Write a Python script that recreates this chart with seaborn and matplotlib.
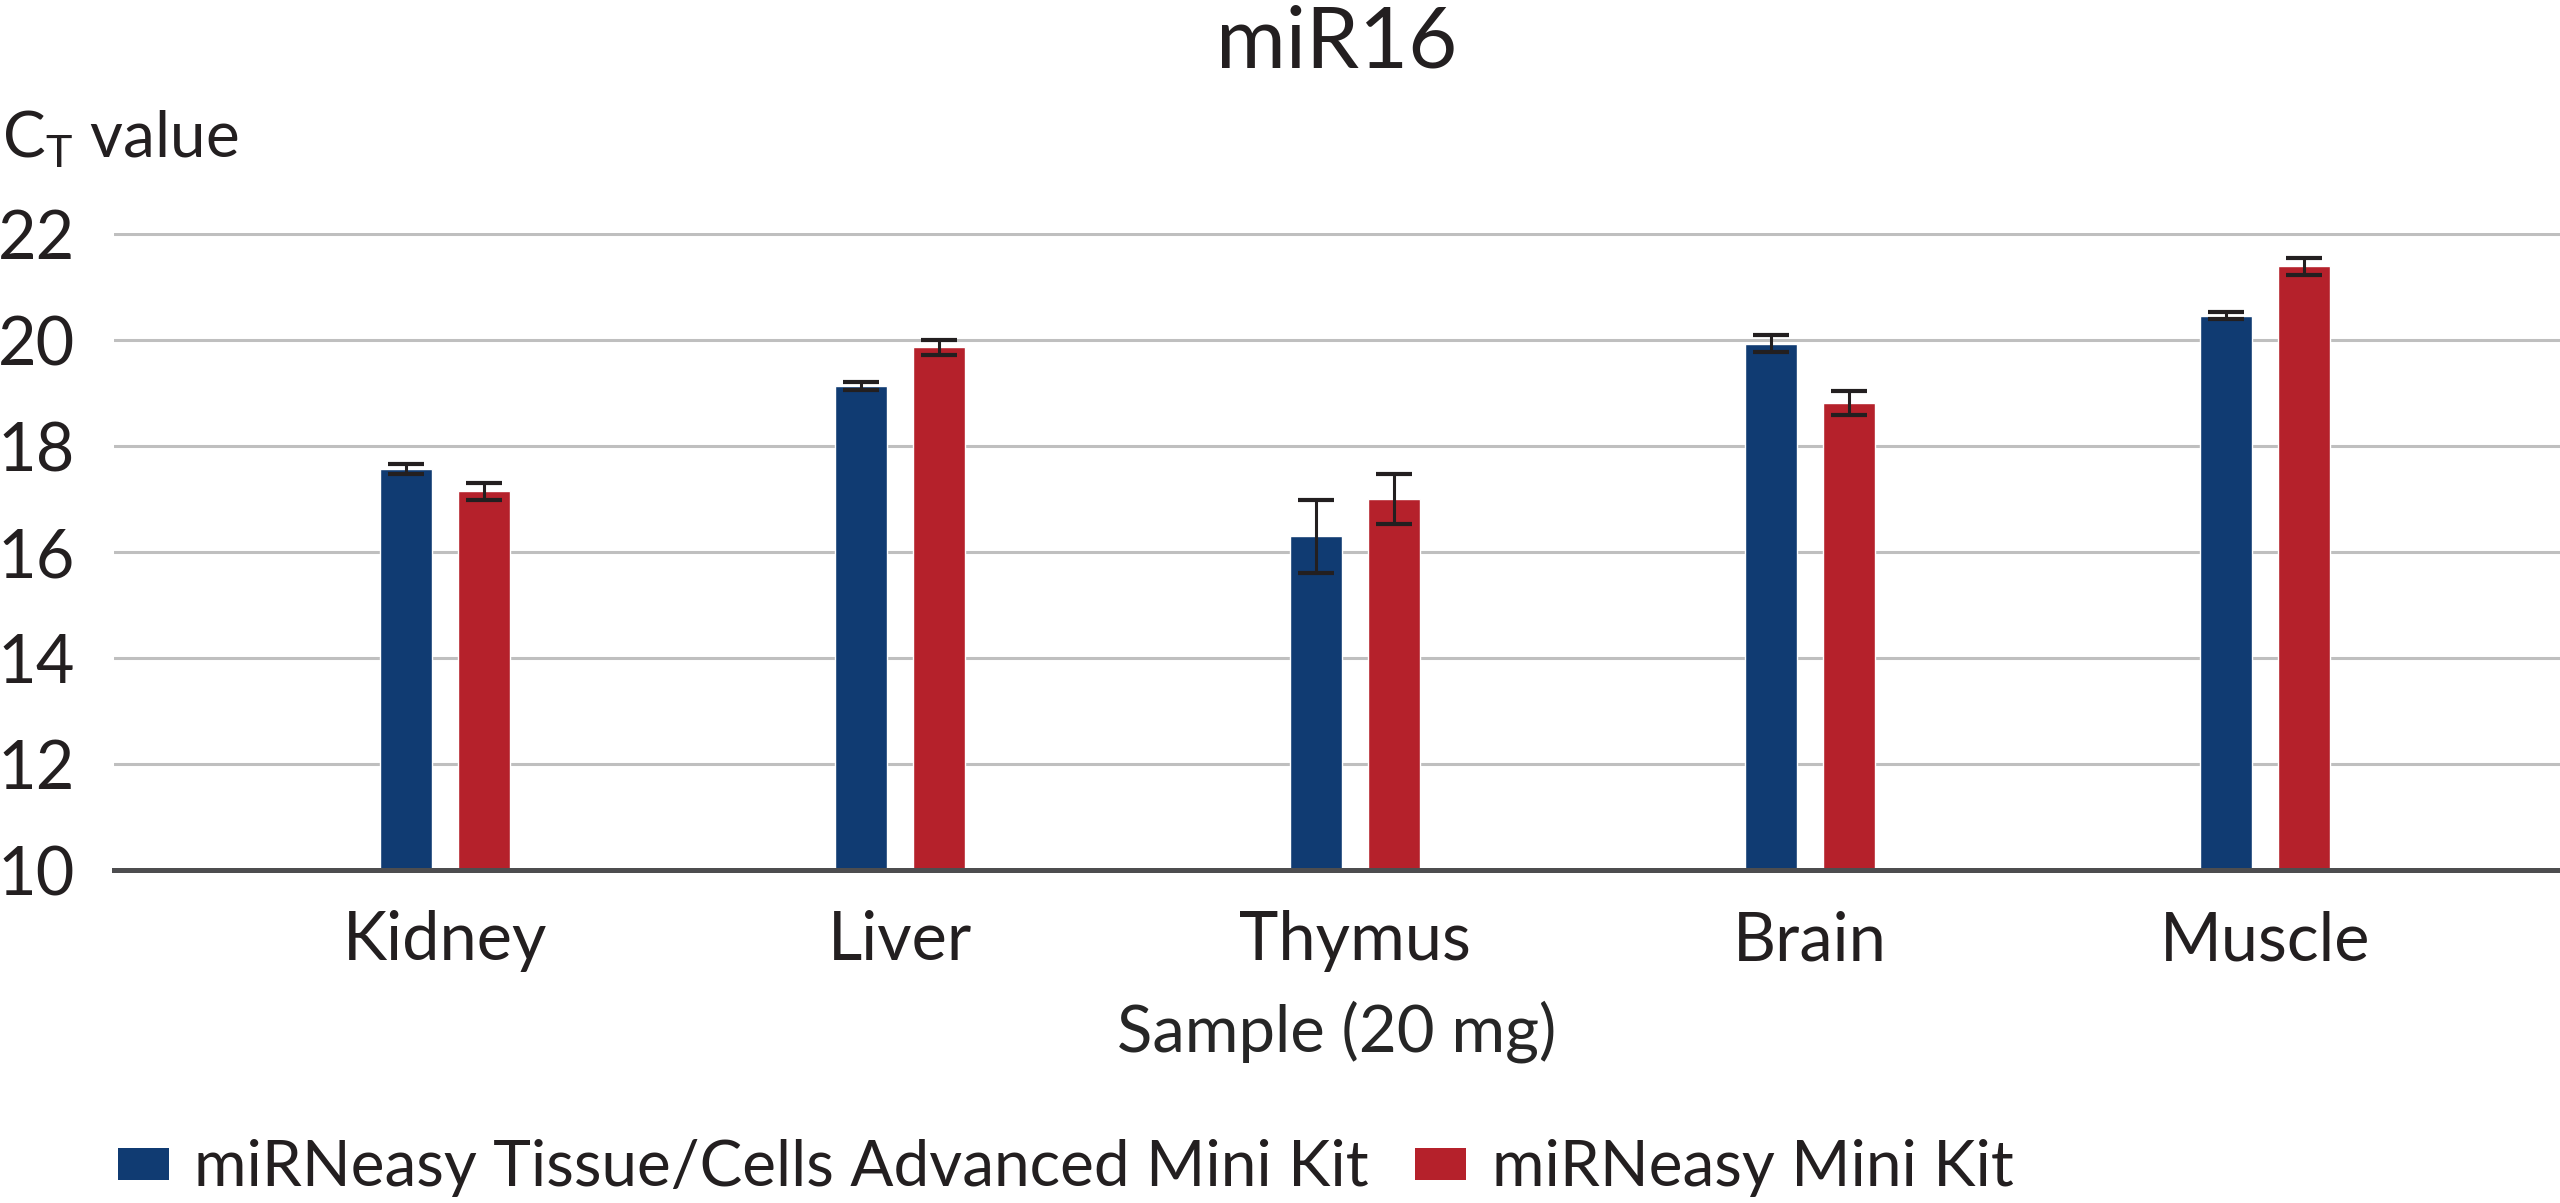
import pandas as pd
import seaborn as sns
import matplotlib.pyplot as plt
from matplotlib.patches import Patch

# values
samples = ["Kidney", "Liver", "Thymus", "Brain", "Muscle"]
kits = ["miRNeasy Tissue/Cells Advanced Mini Kit", "miRNeasy Mini Kit"]
ct_advanced = [17.57, 19.13, 16.30, 19.93, 20.46]
ct_mini = [17.15, 19.86, 17.00, 18.81, 21.39]
sd_advanced = [0.10, 0.08, 0.69, 0.16, 0.07]
sd_mini = [0.16, 0.15, 0.48, 0.23, 0.16]
colors = ["#103B72", "#B5212B"]

records = []
for i, s in enumerate(samples):
    records.append({"sample": s, "kit": kits[0], "ct": ct_advanced[i], "sd": sd_advanced[i]})
    records.append({"sample": s, "kit": kits[1], "ct": ct_mini[i], "sd": sd_mini[i]})
df = pd.DataFrame(records)

sns.set_style("white")
plt.rcParams['font.family'] = ['Lato', 'DejaVu Sans']
plt.rcParams['mathtext.fontset'] = 'custom'
plt.rcParams['mathtext.rm'] = 'Lato'
plt.rcParams['text.color'] = '#231F20'

W, H = 2560, 1203
fig = plt.figure(figsize=(W / 100, H / 100), dpi=100)
ax = fig.add_axes([114 / W, 1 - 870 / H, 1 - 114 / W, (870 - 233) / H])

sns.barplot(data=df, x="sample", y="ct", hue="kit", order=samples, hue_order=kits,
            palette=colors, width=0.343, gap=0.34, errorbar=None, legend=False,
            saturation=1, ax=ax, zorder=3)

# error bars on top of each bar
for cont, sds in zip(ax.containers, [sd_advanced, sd_mini]):
    xs = [p.get_x() + p.get_width() / 2 for p in cont]
    ys = [p.get_height() for p in cont]
    ax.errorbar(xs, ys, yerr=sds, fmt="none", ecolor="#231F20", elinewidth=2.2,
                capsize=13, capthick=3, zorder=4)

ax.set_ylim(10, 22.02)
ax.set_xlim(-0.7275, 4.648)
ax.set_yticks([10, 12, 14, 16, 18, 20, 22])
ax.grid(axis="y", color="#BFBFBF", linewidth=2.2, zorder=0)
ax.set_axisbelow(True)
for side in ["top", "right", "left"]:
    ax.spines[side].set_visible(False)
ax.spines["bottom"].set_color("#4D4D4F")
ax.spines["bottom"].set_linewidth(3.6)
ax.spines["bottom"].set_zorder(5)
ax.tick_params(axis="y", length=0, pad=28, labelsize=48, labelcolor="#231F20")
ax.tick_params(axis="x", length=0, pad=29, labelsize=48, labelcolor="#231F20")
ax.set_ylabel("")
ax.set_xlabel("Sample (20 mg)", fontsize=47, labelpad=20)

fig.text(1337 / W, 1 - 67 / H, "miR16", fontsize=61, ha="center", va="baseline")
fig.text(2 / W, 1 - 157 / H, r"C$_\mathregular{T}$ value", fontsize=46, ha="left", va="baseline")

handles = [Patch(facecolor=c, edgecolor="none") for c in colors]
fig.legend(handles, kits, loc="lower left", bbox_to_anchor=(92 / W, -20 / H), ncol=2,
           frameon=False, fontsize=46, handlelength=0.8, handleheight=0.39,
           handletextpad=0.4, columnspacing=0.72, borderaxespad=0)

fig.savefig("out.png", dpi=100)
